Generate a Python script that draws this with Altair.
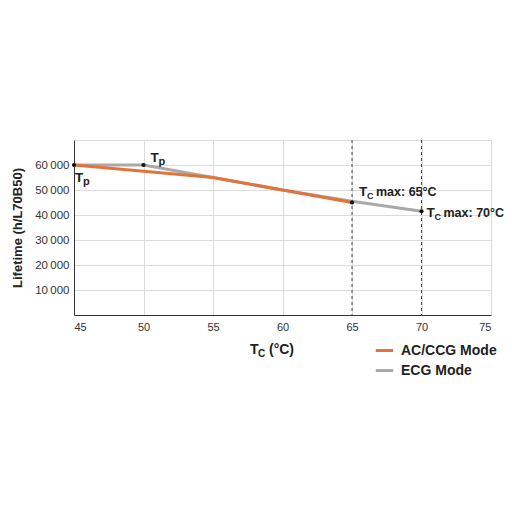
import altair as alt
import pandas as pd

# Data
tc_ac = [45, 50, 55, 60, 65]
life_ac = [60000, 57500, 55000, 50000, 45000]
tc_ecg = [45, 50, 55, 60, 65, 70]
life_ecg = [60000, 60000, 55000, 50000, 45500, 41500]

pt_x = [45, 50, 65, 70]
pt_y = [60000, 60000, 45000, 41500]

rules_x = [65, 70]

ann_x = [45, 50, 65, 70]
ann_y = [60000, 60000, 45000, 41500]
ann_sub = ["p", "p", "C", "C"]
ann_rest = ["", "", "max: 65°C", "max: 70°C"]
ann_dx = [1, 7, 7, 5]
ann_dy = [13, -7, -11, 2]
ann_subsize = [11, 11, 9, 9]

ORANGE = "#E2733A"
GRAY = "#A9A9A9"
FONT = "Liberation Sans"
TXT = "#222222"

lines = pd.DataFrame(
    [{"tc": a, "life": b, "mode": "ECG Mode"} for a, b in zip(tc_ecg, life_ecg)]
    + [{"tc": a, "life": b, "mode": "AC/CCG Mode"} for a, b in zip(tc_ac, life_ac)]
)
pts = pd.DataFrame({"tc": pt_x, "life": pt_y})
rules = pd.DataFrame({"tc": rules_x})

xsc = alt.Scale(domain=[45, 75], nice=False)
ysc = alt.Scale(domain=[0, 70000], nice=False)

X = alt.X("tc:Q", scale=xsc, axis=alt.Axis(
    values=[45, 50, 55, 60, 65, 70, 75], title=None, ticks=False, labelPadding=6,
    gridColor="#dcdcdc", domainColor="#333333", labelColor="#333333",
    labelFontSize=11, labelFont=FONT, labelOverlap=False))
Y = alt.Y("life:Q", scale=ysc, axis=alt.Axis(
    values=[10000, 20000, 30000, 40000, 50000, 60000],
    labelExpr="replace(format(datum.value, ','), ',', '\u2009')",
    title="Lifetime (h/L70B50)", titleFontSize=13, titleFont=FONT, titleFontWeight="bold",
    titleColor=TXT, titlePadding=10, ticks=False, labelPadding=5,
    gridColor="#dcdcdc", domainColor="#333333", labelColor="#333333",
    labelFontSize=11.5, labelFont=FONT, labelOverlap=False))

gray_layer = alt.Chart(lines[lines["mode"] == "ECG Mode"]).mark_line(strokeWidth=3, color=GRAY).encode(x=X, y=Y)
orange_layer = alt.Chart(lines[lines["mode"] == "AC/CCG Mode"]).mark_line(strokeWidth=3, color=ORANGE).encode(x=X, y=Y)
legend_layer = alt.Chart(lines).mark_line(strokeWidth=0, opacity=0).encode(
    x=X, y=Y,
    color=alt.Color("mode:N", scale=alt.Scale(domain=["AC/CCG Mode", "ECG Mode"], range=[ORANGE, GRAY]),
                    legend=alt.Legend(title=None, orient="none", legendX=300, legendY=200,
                                      symbolType="stroke", symbolStrokeWidth=3, symbolSize=300,
                                      symbolOpacity=1, rowPadding=2, labelOffset=6,
                                      labelFont=FONT, labelFontSize=14, labelFontWeight="bold",
                                      labelColor=TXT)),
)

rule_layer = alt.Chart(rules).mark_rule(color="#444444", strokeDash=[3, 3], strokeWidth=1).encode(x=X)
pt_layer = alt.Chart(pts).mark_circle(size=18, color="#111111", opacity=1).encode(x=X, y=Y)

ann_layers = []
for i in range(len(ann_x)):
    d = pd.DataFrame({"tc": [ann_x[i]], "life": [ann_y[i]], "t": ["T"],
                      "sub": [ann_sub[i]], "rest": [ann_rest[i]]})
    ann_layers.append(alt.Chart(d).mark_text(
        align="left", baseline="middle", font=FONT, fontSize=13.5, fontWeight="bold", color=TXT,
        dx=ann_dx[i], dy=ann_dy[i]).encode(x=X, y=Y, text="t:N"))
    ann_layers.append(alt.Chart(d).mark_text(
        align="left", baseline="middle", font=FONT, fontSize=ann_subsize[i], fontWeight="bold", color=TXT,
        dx=ann_dx[i] + 8, dy=ann_dy[i] + 4).encode(x=X, y=Y, text="sub:N"))
    if ann_rest[i]:
        ann_layers.append(alt.Chart(d).mark_text(
            align="left", baseline="middle", font=FONT, fontSize=12.5, fontWeight="bold", color=TXT,
            dx=ann_dx[i] + 17, dy=ann_dy[i]).encode(x=X, y=Y, text="rest:N"))

title_df = pd.DataFrame({"a": ["T"], "b": ["C"], "c": ["(°C)"]})
tt1 = alt.Chart(title_df).mark_text(align="left", baseline="middle", font=FONT, fontSize=14, fontWeight="bold", color=TXT).encode(
    x=alt.value(176), y=alt.value(210), text="a:N")
tt2 = alt.Chart(title_df).mark_text(align="left", baseline="middle", font=FONT, fontSize=10, fontWeight="bold", color=TXT).encode(
    x=alt.value(184), y=alt.value(214), text="b:N")
tt3 = alt.Chart(title_df).mark_text(align="left", baseline="middle", font=FONT, fontSize=14, fontWeight="bold", color=TXT).encode(
    x=alt.value(195), y=alt.value(210), text="c:N")

chart = alt.layer(
    gray_layer, legend_layer, rule_layer, orange_layer, pt_layer, *ann_layers, tt1, tt2, tt3
).properties(
    width=417, height=175,
    autosize=alt.AutoSizeParams(type="none"),
    padding={"left": 66, "top": 132, "right": 13, "bottom": 189},
).configure_view(stroke=None).configure_axis(labelOverlap=False).configure(background="white")

chart.save("out.html", embed_options={"renderer": "svg", "actions": False})
